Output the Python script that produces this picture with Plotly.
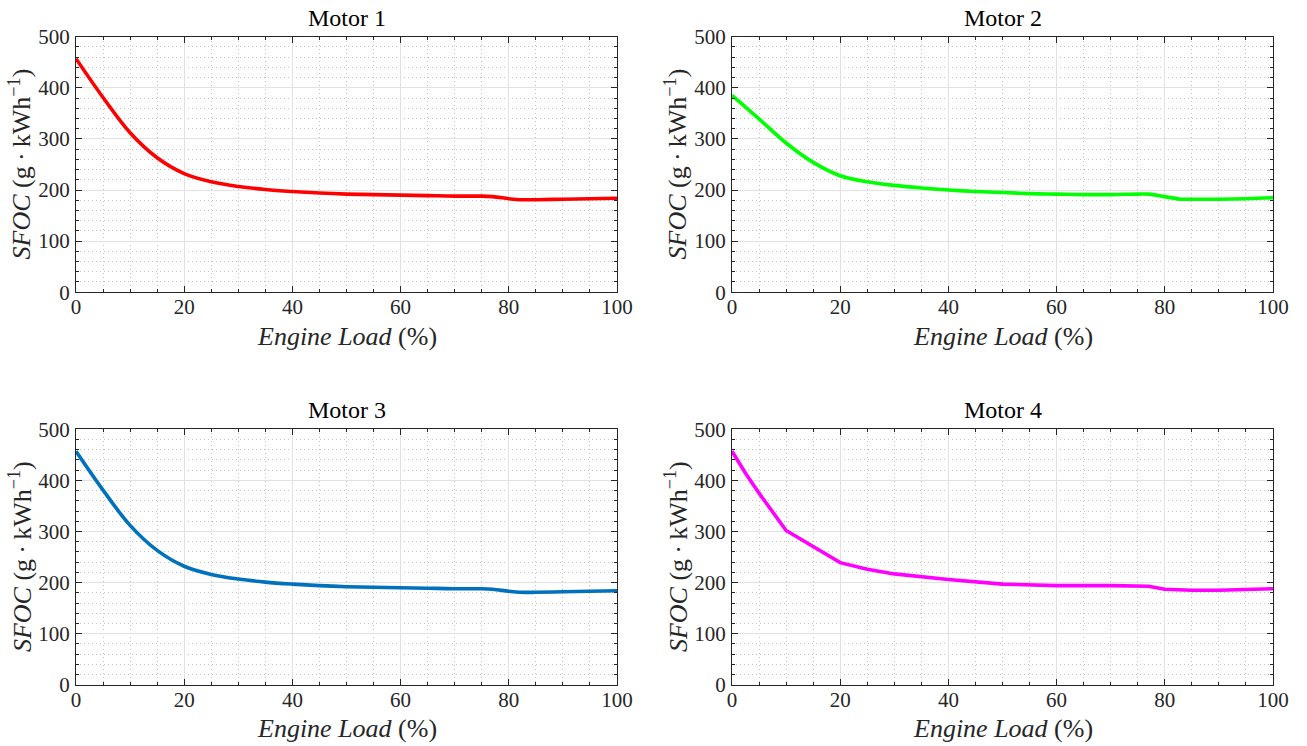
import plotly.graph_objects as go

# ---------------- data ----------------
load_smooth = [0, 5, 10, 15, 20, 25, 30, 35, 40, 45, 50, 55, 60, 65, 70, 75, 77, 80, 82, 85, 90, 95, 100]
sfoc_motor1 = [457, 381, 312, 263, 232, 216, 207, 201, 197, 194, 192, 191, 190, 189, 188, 188, 187, 183, 181, 181, 182, 183, 184]
sfoc_motor3 = [457, 381, 312, 263, 232, 216, 207, 201, 197, 194, 192, 191, 190, 189, 188, 188, 187, 183, 181, 181, 182, 183, 184]

load_motor2 = [0, 5, 10, 15, 20, 25, 30, 35, 40, 45, 50, 55, 60, 65, 70, 75, 77, 80, 83, 85, 90, 95, 100]
sfoc_motor2 = [385, 339, 292, 254, 228, 216, 209, 204, 200, 197, 195, 193, 192, 191, 191, 192, 192, 187, 182, 182, 182, 183, 185]

load_motor4 = [0, 2.5, 5, 7.5, 10, 20, 25, 30, 40, 50, 60, 70, 75, 77, 80, 85, 90, 100]
sfoc_motor4 = [457, 414, 375, 337, 302, 239, 226, 217, 206, 197, 194, 194, 194, 193, 187, 185, 185, 188]

titles = ["Motor 1", "Motor 2", "Motor 3", "Motor 4"]
colors = ["#FF0000", "#00FF00", "#0072BD", "#FF00FF"]
x_ticks = [0, 20, 40, 60, 80, 100]
y_ticks = [0, 100, 200, 300, 400, 500]

series = [
    (load_smooth, sfoc_motor1, "spline"),
    (load_motor2, sfoc_motor2, "spline"),
    (load_smooth, sfoc_motor3, "spline"),
    (load_motor4, sfoc_motor4, "linear"),
]

# ---------------- layout geometry ----------------
W, H = 1307, 746
x_px = [(76, 617), (732, 1273)]
y_px = [(36.7, 292.2), (429.3, 684.8)]  # (top, bottom)
x_domains = [[a / W, b / W] for a, b in x_px]
y_domains = [[(H - b) / H, (H - t) / H] for t, b in y_px]

FONT = "Liberation Serif"
AX_COLOR = "#262626"

fig = go.Figure()
layout = dict(
    width=W, height=H, autosize=False,
    margin=dict(l=0, r=0, t=0, b=0, pad=0),
    paper_bgcolor="white", plot_bgcolor="white",
    showlegend=False,
    font=dict(family=FONT, size=20, color=AX_COLOR),
)
annotations = []

for i in range(4):
    row, col = divmod(i, 2)
    n = "" if i == 0 else str(i + 1)
    xs, ys, shape = series[i]
    line = dict(color=colors[i], width=3.6, shape=shape)
    if shape == "spline":
        line["smoothing"] = 1.0
    fig.add_trace(go.Scatter(
        x=xs, y=ys, mode="lines", line=line,
        xaxis="x" + n, yaxis="y" + n, hoverinfo="x+y",
    ))
    common = dict(
        showline=True, linecolor=AX_COLOR, linewidth=1, mirror="ticks",
        ticks="inside", ticklen=6, tickwidth=1, tickcolor=AX_COLOR,
        showgrid=True, gridcolor="#E2E2E2", gridwidth=1.4,
        zeroline=False, automargin=False,
        tickfont=dict(family=FONT, size=21, color=AX_COLOR),
    )
    minor_common = dict(ticks="inside", ticklen=3, tickcolor=AX_COLOR, tickwidth=1,
                        showgrid=True, gridcolor="#C4C4C4", griddash="1px,3px", gridwidth=1)
    layout["xaxis" + n] = dict(
        common, domain=x_domains[col], anchor="y" + n,
        range=[0, 100], tickvals=x_ticks, ticklabelstandoff=-4,
        minor=dict(minor_common, dtick=5, tick0=0),
    )
    layout["yaxis" + n] = dict(
        common, domain=y_domains[row], anchor="x" + n,
        range=[0, 500], tickvals=y_ticks, ticklabelstandoff=1,
        minor=dict(minor_common, dtick=20, tick0=0),
    )
    left, right = x_px[col]
    top, bot = y_px[row]
    xc = (left + right) / 2 / W
    # title
    annotations.append(dict(
        text=titles[i], xref="paper", yref="paper", x=xc, y=(H - (top - 19)) / H,
        xanchor="center", yanchor="middle", showarrow=False,
        font=dict(family=FONT, size=24, color="black"),
    ))
    # x label
    annotations.append(dict(
        text="<i>Engine Load</i> (%)", xref="paper", yref="paper", x=xc, y=(H - (bot + 44)) / H,
        xanchor="center", yanchor="middle", showarrow=False,
        font=dict(family=FONT, size=26, color=AX_COLOR),
    ))
    # y label
    annotations.append(dict(
        text="<i>SFOC</i> (g\u2009·\u2009kWh<sup>−1</sup>)", xref="paper", yref="paper",
        x=(left - 56) / W, y=(H - (top + bot) / 2) / H,
        xanchor="center", yanchor="middle", textangle=-90, showarrow=False,
        font=dict(family=FONT, size=26, color=AX_COLOR),
    ))

layout["annotations"] = annotations
fig.update_layout(**layout)
fig.write_html(
    "out.html",
    config={"displayModeBar": False},
    post_script="document.body.style.margin='0';document.body.style.padding='0';",
)
